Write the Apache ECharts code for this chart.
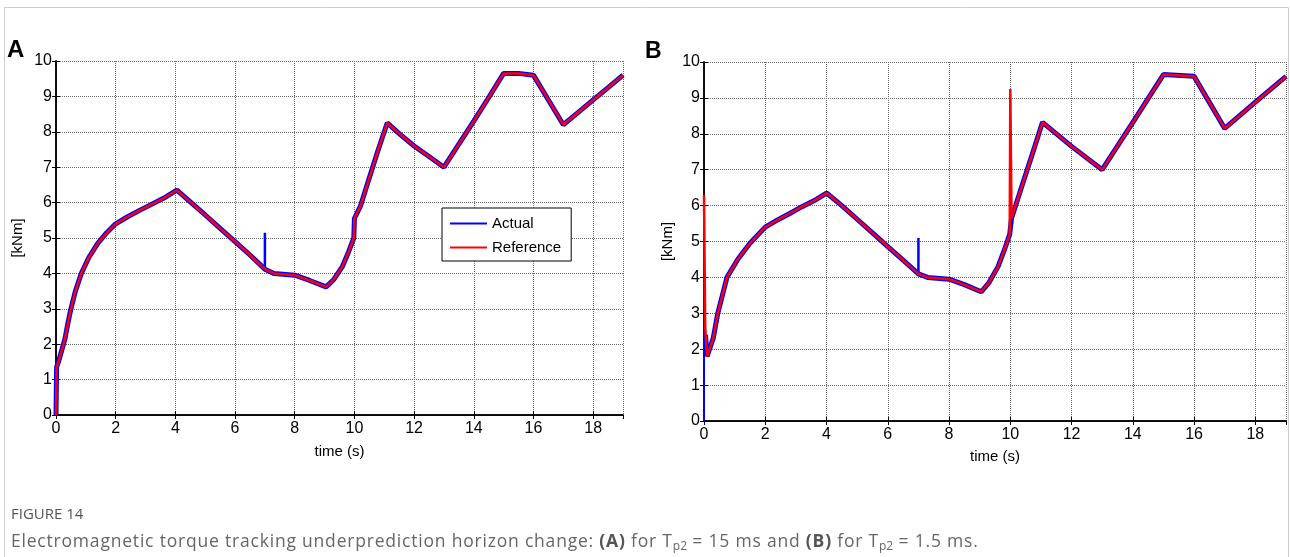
<!DOCTYPE html>
<html>
<head>
<meta charset="utf-8">
<script src="https://cdn.jsdelivr.net/npm/echarts@6/dist/echarts.min.js"></script>
<style>
  html, body { margin: 0; padding: 0; background: #fff; }
  #chart { width: 1290px; height: 557px; }
  .cap { position: absolute; left: 11px; font-family: "Open Sans", "Noto Sans", sans-serif; color: #666; white-space: nowrap; }
  #fig { top: 503px; font-size: 15px; color: #555; }
  #txt { top: 528px; font-size: 17.5px; letter-spacing: 0.8px; }
  #txt b { font-weight: 700; color: #555; }
  #txt sub { font-size: 12px; vertical-align: -3px; line-height: 0; letter-spacing: 0; }
</style>
</head>
<body>
<div id="chart"></div>
<div class="cap" id="fig">FIGURE 14</div>
<div class="cap" id="txt">Electromagnetic torque tracking underprediction horizon change: <b>(A)</b> for T<sub>p2</sub> = 15 ms and <b>(B)</b> for T<sub>p2</sub> = 1.5 ms.</div>
<script>
// torque [kNm] vs time [s]
var curveA = [
  [0, 0], [0.02, 1.35], [0.1, 1.55], [0.2, 1.85], [0.3, 2.15], [0.4, 2.6], [0.5, 3.0],
  [0.65, 3.5], [0.85, 4.0], [1.1, 4.45], [1.4, 4.85], [1.7, 5.15], [2.0, 5.4],
  [2.4, 5.6], [2.8, 5.78], [3.2, 5.95], [3.6, 6.12], [4.05, 6.35], [4.5, 6.02],
  [5.0, 5.65], [5.5, 5.27], [6.0, 4.9], [6.5, 4.52], [7.0, 4.12], [7.3, 4.0],
  [8.0, 3.95], [8.5, 3.8], [9.05, 3.62], [9.3, 3.82], [9.6, 4.2], [9.8, 4.6],
  [9.98, 5.0], [10.0, 5.55], [10.2, 5.9], [10.5, 6.7], [10.8, 7.5], [11.1, 8.25],
  [11.5, 7.95], [12.0, 7.6], [12.5, 7.3], [13.0, 7.0], [13.5, 7.65], [14.0, 8.3],
  [14.5, 8.97], [15.0, 9.65], [15.5, 9.65], [16.0, 9.6], [16.5, 8.9], [17.0, 8.2],
  [17.5, 8.55], [18.0, 8.9], [18.5, 9.25], [19.0, 9.6]
];
var spikeA = [[7.0, 4.15], [7.0, 5.15]];

var tailB = [
  [0.16, 1.75], [0.3, 2.3], [0.45, 3.0], [0.6, 3.5], [0.75, 4.0], [1.1, 4.5],
  [1.5, 4.95], [2.0, 5.4], [2.4, 5.6], [2.8, 5.78], [3.2, 5.97], [3.6, 6.14],
  [4.0, 6.35], [4.5, 6.0], [5.0, 5.62], [5.5, 5.24], [6.0, 4.86], [6.5, 4.48],
  [7.0, 4.1], [7.3, 4.0], [8.0, 3.95], [8.5, 3.8], [9.05, 3.6], [9.3, 3.85],
  [9.6, 4.3], [9.8, 4.75], [9.98, 5.2]
];
var refB = [[0, 6.3], [0.04, 2.6], [0.1, 1.8]].concat(tailB, [
  [10.0, 9.25], [10.04, 5.65], [10.4, 6.6], [10.8, 7.65], [11.05, 8.32],
  [12.0, 7.65], [13.0, 7.0], [14.0, 8.32], [15.0, 9.65], [16.0, 9.6],
  [17.0, 8.15], [18.0, 8.88], [19.0, 9.6]
]);
var actB = [[0.05, 2.4], [0.1, 1.8]].concat(tailB, [
  [10.04, 5.65], [10.4, 6.6], [10.8, 7.65], [11.05, 8.32],
  [12.0, 7.65], [13.0, 7.0], [14.0, 8.32], [15.0, 9.65], [16.0, 9.6],
  [17.0, 8.15], [18.0, 8.88], [19.0, 9.6]
]);
var spikeB0 = [[0, 0], [0, 4.6]];
var spikeB7 = [[7.0, 4.1], [7.0, 5.1]];
var spikeB10 = [[10.0, 5.2], [10.0, 8.1]];

var FONT = 'Liberation Sans';
var BLUE = '#0000ff', RED = '#ff0000';
var GRID_LINE = { color: '#6a6a6a', type: 'dotted' };

function xAxes(gi, gap) {
  return [{
    gridIndex: gi, type: 'value', min: 0, max: 19, interval: 2,
    name: 'time (s)', nameLocation: 'middle', nameGap: gap,
    nameTextStyle: { color: '#000', fontSize: 15, fontFamily: FONT },
    axisLine: { lineStyle: { color: '#000', width: 1.5 } },
    axisTick: { inside: true, length: 4, lineStyle: { color: '#000' } },
    axisLabel: { color: '#000', fontSize: 16, fontFamily: FONT, margin: 6, showMaxLabel: false },
    splitLine: { show: true, lineStyle: GRID_LINE }
  }, {
    gridIndex: gi, type: 'value', min: 0, max: 19, interval: 2, position: 'top',
    axisLine: { lineStyle: { color: '#000', width: 1.5 } },
    axisTick: { inside: true, length: 4, lineStyle: { color: '#000' } },
    axisLabel: { show: false }, splitLine: { show: false }
  }];
}
function yAxes(gi, gap) {
  return [{
    gridIndex: gi, type: 'value', min: 0, max: 10, interval: 1,
    name: '[kNm]', nameLocation: 'middle', nameGap: gap, nameRotate: 90,
    nameTextStyle: { color: '#000', fontSize: 15, fontFamily: FONT },
    axisLine: { lineStyle: { color: '#000', width: 1.5 } },
    axisTick: { inside: true, length: 4, lineStyle: { color: '#000' } },
    axisLabel: { color: '#000', fontSize: 16, fontFamily: FONT, margin: 4 },
    splitLine: { show: true, lineStyle: GRID_LINE }
  }, {
    gridIndex: gi, type: 'value', min: 0, max: 10, interval: 1, position: 'right',
    axisLine: { lineStyle: { color: '#000', width: 1.5 } },
    axisTick: { inside: true, length: 4, lineStyle: { color: '#000' } },
    axisLabel: { show: false }, splitLine: { show: false }
  }];
}
function line(name, data, ax, color, width) {
  return {
    name: name, type: 'line', data: data, xAxisIndex: ax, yAxisIndex: ax,
    symbol: 'none', silent: true, animation: false,
    lineStyle: { color: color, width: width }, itemStyle: { color: color }
  };
}

var chart = echarts.init(document.getElementById('chart'));
chart.setOption({
  animation: false,
  grid: [
    { left: 56, top: 61, width: 567, height: 354 },
    { left: 704, top: 62, width: 582, height: 359 }
  ],
  xAxis: xAxes(0, 29).concat(xAxes(1, 28)),
  yAxis: yAxes(0, 31).concat(yAxes(1, 29)),
  legend: {
    left: 442, top: 208, orient: 'vertical', icon: 'rect',
    itemWidth: 37, itemHeight: 2, itemGap: 9,
    padding: [8, 10, 6, 8], backgroundColor: '#fff',
    borderColor: '#000', borderWidth: 1, selectedMode: false,
    textStyle: { color: '#000', fontSize: 15, fontFamily: FONT },
    data: ['Actual', 'Reference']
  },
  graphic: [
    { type: 'rect', shape: { x: 4.5, y: 7.5, width: 1284, height: 600 },
      style: { fill: 'none', stroke: '#cccccc', lineWidth: 1 }, silent: true },
    { type: 'text', left: 7, top: 38,
      style: { text: 'A', font: 'bold 24px "Liberation Sans"', fill: '#000' } },
    { type: 'text', left: 645, top: 40,
      style: { text: 'B', font: 'bold 23px "Liberation Sans"', fill: '#000' } }
  ],
  series: [
    line('Actual', curveA, 0, BLUE, 5),
    line('Actual', spikeA, 0, BLUE, 2.5),
    line('Reference', curveA, 0, RED, 2.5),
    line('Actual', actB, 2, BLUE, 5),
    line('Actual', spikeB0, 2, BLUE, 2),
    line('Actual', spikeB7, 2, BLUE, 2.5),
    line('Actual', spikeB10, 2, BLUE, 2),
    line('Reference', refB, 2, RED, 2.5)
  ]
});
</script>
</body>
</html>
